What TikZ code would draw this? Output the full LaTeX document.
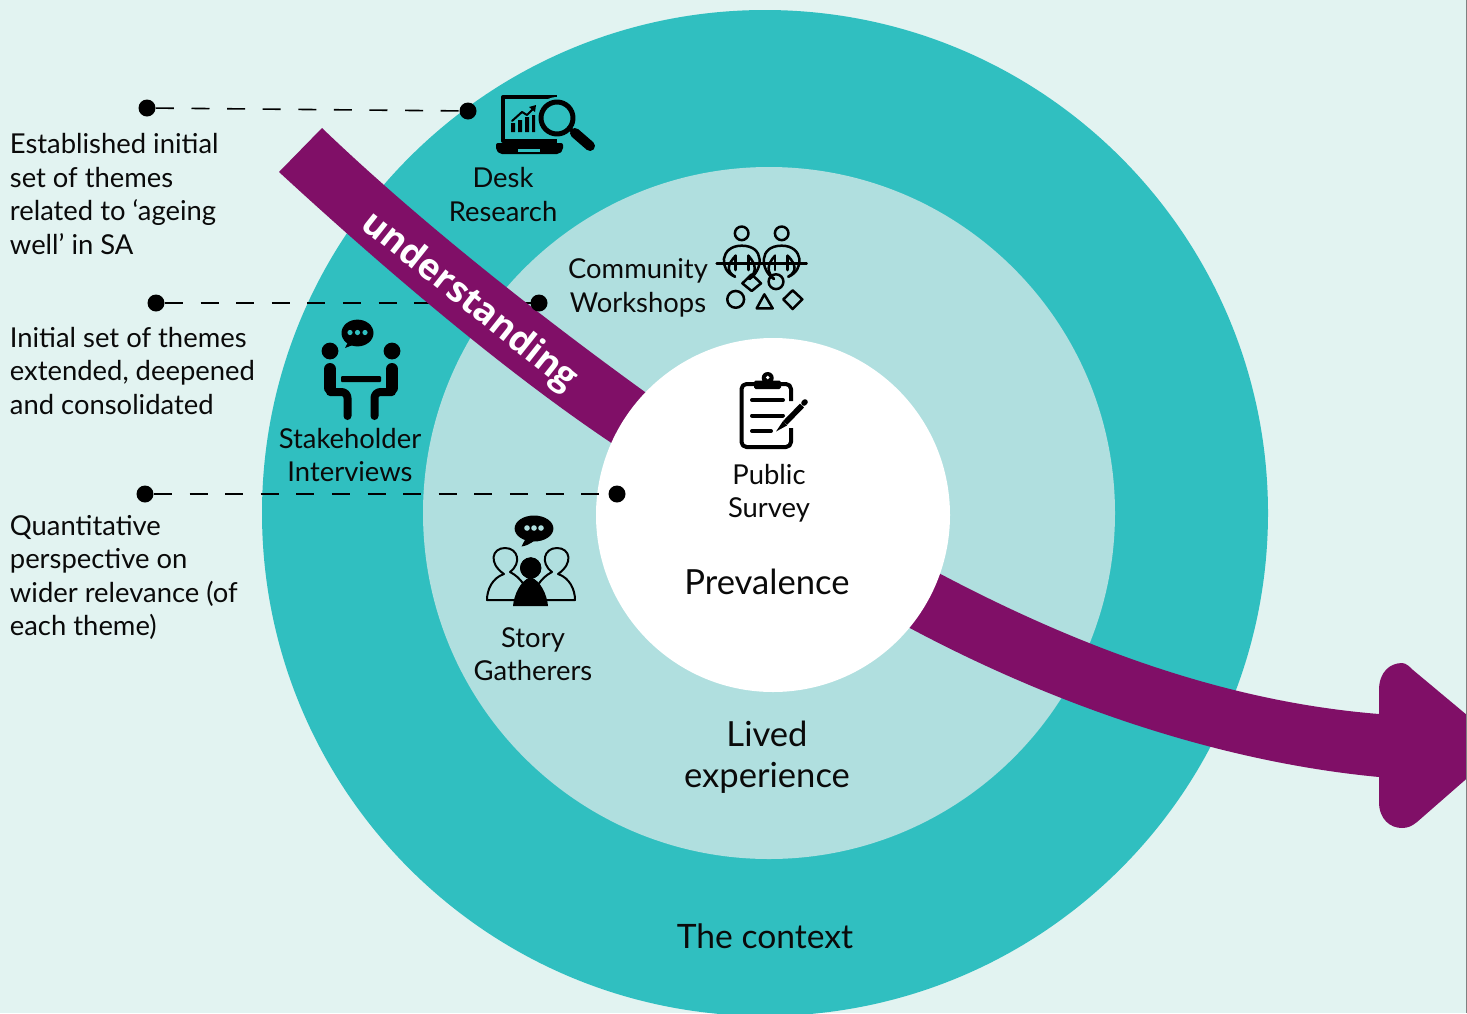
\documentclass[tikz,border=0pt]{standalone}
\usepackage{fontspec}
\setmainfont{Lato}
\newfontfamily\bandfont{Open Sans}
\definecolor{bgc}{HTML}{E2F3F1}
\definecolor{tealc}{HTML}{30BFC0}
\definecolor{midc}{HTML}{B0DFDF}
\definecolor{purp}{HTML}{800F67}
\definecolor{ink}{HTML}{0A0A0A}
\tikzset{
 lbl/.style={inner sep=0pt,text=ink,font=\fontsize{13.7}{16.7}\selectfont},
 lblc/.style={lbl,align=center,anchor=center},
 lbll/.style={lbl,align=left,anchor=west},
 big/.style={inner sep=0pt,text=ink,align=center,font=\fontsize{17.3}{20.5}\selectfont},
 dotn/.style={circle,fill=black,inner sep=0pt,minimum size=8.5pt},
 dashln/.style={draw=black,line width=0.8pt,dash pattern=on 9pt off 8.8pt},
 ico/.style={line cap=round,line join=round},
}
\begin{document}
\begin{tikzpicture}[x=0.5pt,y=-0.5pt]
\useasboundingbox (0,0) rectangle (1467,1013);
\clip (0,0) rectangle (1467,1013);
\fill[bgc] (0,0) rectangle (1467,1013);
\fill[tealc] (765,513) circle[radius=251.5pt];
\fill[midc] (769,513) circle[radius=173pt];
% leader lines behind band
\node[dotn] (a1) at (147,108) {};
\node[dotn] (a2) at (468,111) {};
\node[dotn] (b1) at (156,303) {};
\coordinate (b2c) at (539,303);
\draw[dashln] (a1) -- (a2);
\draw[dashln] (b1) -- (b2c);
% understanding band
\fill[purp] (322,128) .. controls (420,222) and (540,316) .. (645,392) -- (700,430) -- (660,480) -- (610,442) .. controls (500,368) and (380,265) .. (279,172) -- cycle;
\node[dotn] (b2) at (b2c) {};
\node[rotate=-38.5,inner sep=0pt,text=white,font=\bandfont\fontsize{18}{20}\bfseries\selectfont] (under) at (469,302) {understanding};
% big arrow
\fill[purp] (920,563) .. controls (1080,650) and (1230,702) .. (1379,714)
  -- (1379,690) .. controls (1379,672) and (1390,663) .. (1402,663) .. controls (1406,663) and (1410,667) .. (1413,670)
  -- (1504,746) -- (1417,822) .. controls (1412,826) and (1408,828) .. (1402,828) .. controls (1390,828) and (1379,819) .. (1379,802)
  -- (1379,777) .. controls (1220,762) and (1050,705) .. (895,620) -- cycle;
\fill[white] (773,515) circle[radius=88.5pt];
\node[dotn] (c1) at (145,494) {};
\node[dotn] (c2) at (617,494) {};
\draw[dashln] (c1) -- (c2);
% labels
\node[lbll] (t1) at (9.5,194) {Established initial\\set of themes\\related to ‘ageing\\well’ in SA};
\node[lbll] (t2) at (9.5,371) {Initial set of themes\\extended, deepened\\and consolidated};
\node[lbll] (t3) at (9.5,577.5) {Quantitative\\perspective on\\wider relevance (of\\each theme)};
\node[lblc] (desk) at (503,194.5) {Desk\\Research};
\node[lblc] (comm) at (638,288) {Community\\Workshops};
\node[lblc] (stake) at (350,455) {Stakeholder\\Interviews};
\node[lblc] (story) at (533,654) {Story\\Gatherers};
\node[lblc] (pub) at (769,493) {Public\\Survey};
\node[big] (prev) at (767,582) {Prevalence};
\node[big] (lived) at (767,757) {Lived\\experience};
\node[big,font=\fontsize{16.8}{20.5}\selectfont] (ctx) at (765,936) {The context};
% --- desk research icon
\begin{scope}[ico]
\draw[black,line width=2pt,line cap=butt] (557,97) -- (503,97) -- (503,141) -- (557,141);
\fill[black,rounded corners=1pt] (496,143) -- (563,143) -- (563,150) -- (559,154) -- (500,154) -- (496,150) -- cycle;
\fill[tealc] (518,149) rectangle (540,151.5);
\fill[black] (511,123) rectangle (515,132) (518,120) rectangle (522,132) (525,117) rectangle (529,132) (532,115) rectangle (535,132);
\draw[black,line width=1pt] (512,121) -- (522,112) -- (527,115) -- (534,108);
\fill[black] (536,105) -- (529,107) -- (535,112) -- cycle;
\draw[tealc,line width=4pt] (557,118) circle[radius=8.5pt];
\draw[black,line width=2.5pt] (557,118) circle[radius=8pt];
\draw[black,line width=2pt] (569,128) -- (575,133);
\draw[black,line width=5pt] (575,133) -- (590,146);
\end{scope}
% --- community workshops icon
\begin{scope}[ico,black,line width=1.25pt,shift={(700,215)},x=0.1667pt,y=-0.1667pt]
\draw (125,55) circle[radius=3.4pt] (245,55) circle[radius=3.4pt];
\draw (50,145) -- (320,145);
\draw (105,185) .. controls (55,165) and (60,92) .. (125,92) .. controls (195,92) and (190,165) .. (148,192);
\draw (105,185) .. controls (80,170) and (80,150) .. (107,122);
\draw (148,192) .. controls (170,170) and (170,150) .. (145,122);
\draw (107,122) -- (107,165) (145,122) -- (145,165);
\draw (222,192) .. controls (180,165) and (175,92) .. (245,92) .. controls (310,92) and (315,165) .. (265,185);
\draw (222,192) .. controls (200,170) and (200,150) .. (225,122);
\draw (265,185) .. controls (290,170) and (290,150) .. (263,122);
\draw (225,122) -- (225,165) (263,122) -- (263,165);
\draw (155,178) -- (183,205) -- (155,228) -- (127,205) -- cycle;
\draw (228,200) circle[radius=3.7pt];
\draw (107,253) circle[radius=4.2pt];
\draw (193,238) -- (218,280) -- (170,280) -- cycle;
\draw (278,226) -- (307,253) -- (278,282) -- (250,253) -- cycle;
\end{scope}
% --- stakeholder icon
\begin{scope}[ico]
\fill[black] (357.5,333) ellipse[x radius=8pt,y radius=6.7pt];
\fill[black] (349,340) -- (345,348) -- (358,343) -- cycle;
\fill[tealc] (350,332.5) circle[radius=1.3pt] (357.5,332.5) circle[radius=1.3pt] (365,332.5) circle[radius=1.3pt];
\fill[black] (330,351) circle[radius=4.2pt] (392,351) circle[radius=4.2pt];
\fill[black,rounded corners=0.5pt] (341,376) rectangle (381,382);
\draw[black,line width=6pt] (330,369) -- (330,388) (392,369) -- (392,388);
\draw[black,line width=4pt,rounded corners=3pt] (330,392) -- (347.5,392) -- (347.5,416);
\draw[black,line width=4pt,rounded corners=3pt] (392,392) -- (374.5,392) -- (374.5,416);
\end{scope}
% --- story gatherers icon
\begin{scope}[ico]
\fill[black] (534,528.5) ellipse[x radius=9.7pt,y radius=6.5pt];
\fill[black] (527,536) -- (521.5,546.5) .. controls (530,545) and (535,541) .. (539,535) -- cycle;
\fill[midc] (527,528) circle[radius=1.4pt] (534,528) circle[radius=1.4pt] (541,528) circle[radius=1.4pt];
\draw[black,line width=1pt] (504,574) .. controls (488,563) and (492,548) .. (505,548) .. controls (518,548) and (522,563) .. (510,572) .. controls (522,578) and (528,590) .. (530,600) -- (487,600) .. controls (487,590) and (492,578) .. (504,574) -- cycle;
\draw[black,line width=1pt] (558,574) .. controls (574,563) and (570,548) .. (557,548) .. controls (544,548) and (540,563) .. (552,572) .. controls (540,578) and (534,590) .. (532,600) -- (575,600) .. controls (575,590) and (570,578) .. (558,574) -- cycle;
\fill[black] (530.7,568) circle[radius=5.5pt];
\draw[midc,line width=1pt] (530.7,568) circle[radius=6pt];
\fill[black] (530.5,577) .. controls (520,581) and (514,595) .. (513,606) -- (548,606) .. controls (547,595) and (541,581) .. (530.5,577) -- cycle;
\end{scope}
% --- public survey icon
\begin{scope}[ico]
\draw[black,line width=2pt,rounded corners=2.5pt,line cap=butt] (791,401) -- (791,384) -- (741.5,384) -- (741.5,447) -- (791,447) -- (791,428);
\fill[black,rounded corners=0.8pt] (754,380.5) rectangle (781,389);
\fill[black] (767.7,378) circle[radius=3pt];
\fill[white] (767.7,377.5) circle[radius=0.9pt];
\draw[black,line width=2pt] (752,400) -- (783,400) (752,415.5) -- (783,415.5) (752,431) -- (771,431);
\draw[white,line width=5pt,line cap=butt] (779,430) -- (805,403);
\draw[black,line width=2.8pt,line cap=butt] (785,423) -- (802,405.5);
\draw[black,line width=2.8pt] (804,403) -- (805,402);
\fill[black] (776,431.5) -- (783,421) -- (787,425.5) -- cycle;
\end{scope}
\draw[gray,line width=0.5pt] (1466.6,0) -- (1466.6,1013);
\end{tikzpicture}
\end{document}
